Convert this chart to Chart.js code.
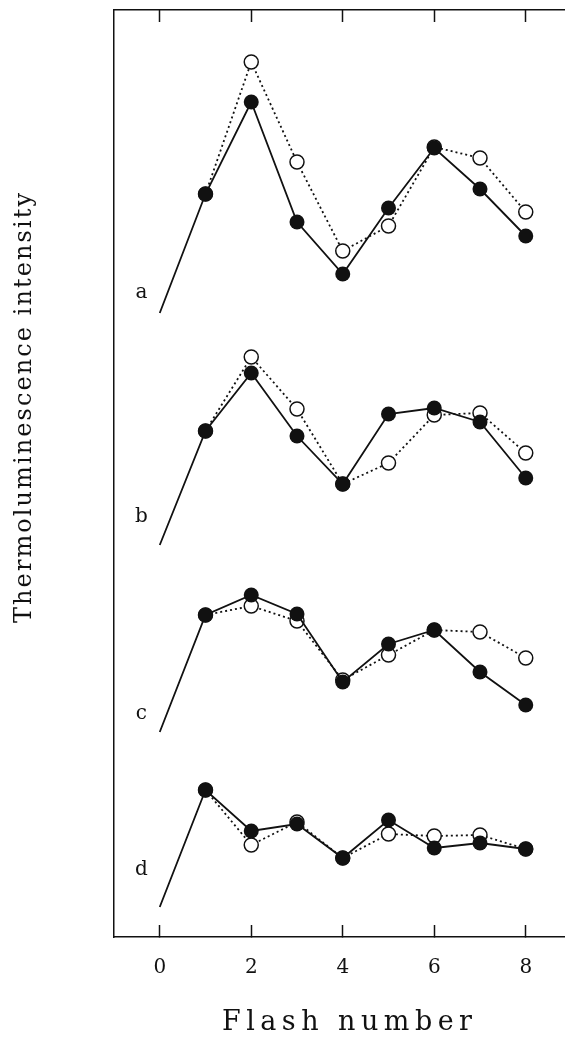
<!DOCTYPE html>
<html>
<head>
<meta charset="utf-8">
<script src="https://cdn.jsdelivr.net/npm/chart.js@4.4.1/dist/chart.umd.min.js"></script>
<style>
  html, body { margin: 0; padding: 0; background: #fff; overflow: hidden; }
  #wrap { width: 580px; height: 1040px; }
</style>
</head>
<body>
<div id="wrap"><canvas id="g1" width="580" height="1040"></canvas></div>
<script>
// flash number 1..8 (the traces start from flash 0 at the panel baseline)
const flashes = [1, 2, 3, 4, 5, 6, 7, 8];
const xTicks = [0, 2, 4, 6, 8];
const panels = ["a", "b", "c", "d"];
// vertical offset of each panel (arbitrary units) and where its letter sits
const baselines = [62.4, 39.2, 20.5, 3.0];
const labelHeights = [64.4, 42.0, 22.3, 6.7];

// intensities above the panel baseline
const filledA = [11.9, 21.1, 9.1, 3.9, 10.5, 16.5, 12.4, 7.7];
const openA = [11.9, 25.1, 15.1, 6.2, 8.7, 16.6, 15.5, 10.1];
const filledB = [11.4, 17.2, 10.9, 6.1, 13.1, 13.7, 12.3, 6.7];
const openB = [11.4, 18.8, 13.6, 6.1, 8.2, 13.0, 13.2, 9.2];
const filledC = [11.7, 13.7, 11.8, 5.0, 8.8, 10.2, 6.0, 2.7];
const openC = [11.7, 12.6, 11.1, 5.2, 7.7, 10.2, 10.0, 7.4];
const filledD = [11.7, 7.6, 8.3, 4.9, 8.7, 5.9, 6.4, 5.8];
const openD = [11.7, 6.2, 8.5, 4.9, 7.3, 7.1, 7.2, 5.8];

const filledSeries = [filledA, filledB, filledC, filledD];
const openSeries = [openA, openB, openC, openD];

const ink = "#111";
const datasets = [];

filledSeries.forEach((vals, i) => {
  const pts = [{ x: 0, y: baselines[i] }].concat(
    vals.map((v, j) => ({ x: flashes[j], y: baselines[i] + v }))
  );
  datasets.push({
    label: panels[i] + " filled",
    data: pts,
    order: 0,
    borderColor: ink,
    borderWidth: 1.8,
    pointRadius: pts.map((p) => (p.x === 0 ? 0 : 7.5)),
    pointBackgroundColor: ink,
    pointBorderWidth: 0,
  });
});

openSeries.forEach((vals, i) => {
  datasets.push({
    label: panels[i] + " open",
    data: vals.map((v, j) => ({ x: flashes[j], y: baselines[i] + v })),
    order: 1,
    borderColor: ink,
    borderWidth: 1.8,
    borderDash: [2, 3],
    pointRadius: 7,
    pointBackgroundColor: "#fff",
    pointBorderColor: ink,
    pointBorderWidth: 1.5,
  });
});

function spacedText(ctx, text, cx, cy, width) {
  ctx.letterSpacing = "0px";
  const w0 = ctx.measureText(text).width;
  const gap = Math.max(0, (width - w0) / (text.length - 1));
  ctx.letterSpacing = gap + "px";
  ctx.textAlign = "left";
  ctx.fillText(text, cx - width / 2, cy);
  ctx.letterSpacing = "0px";
}

const paperText = {
  id: "paperText",
  afterDraw(chart) {
    const { ctx } = chart;
    const x = chart.scales.x;
    const y = chart.scales.y;
    ctx.save();
    ctx.fillStyle = ink;
    ctx.textBaseline = "middle";
    ctx.textAlign = "center";
    ctx.font = "20px 'DejaVu Serif'";
    panels.forEach((p, i) => {
      ctx.fillText(p, x.getPixelForValue(-0.4), y.getPixelForValue(labelHeights[i]));
    });

    ctx.font = "27px 'DejaVu Serif'";
    spacedText(ctx, "Flash number", 347, 1023, 250);

    ctx.translate(25, 408);
    ctx.rotate(-Math.PI / 2);
    ctx.font = "24px 'DejaVu Serif'";
    spacedText(ctx, "Thermoluminescence intensity", 0, 0, 430);
    ctx.restore();
  },
};

const setTicks = (scale) => {
  scale.ticks = xTicks.map((v) => ({ value: v }));
};

const config = {
  type: "line",
  data: { datasets: datasets },
  options: {
    responsive: false,
    animation: false,
    layout: { padding: { right: 7 } },
    plugins: { legend: { display: false }, tooltip: { enabled: false } },
    scales: {
      x: {
        type: "linear",
        position: "bottom",
        min: -1,
        max: 9,
        afterBuildTicks: setTicks,
        afterFit: (s) => { s.height = 103; },
        grid: { drawOnChartArea: false, tickLength: -12, tickColor: ink, tickWidth: 1.5 },
        border: { color: ink, width: 1.5 },
        ticks: { color: ink, padding: 31, font: { family: "'DejaVu Serif'", size: 20 } },
      },
      x2: {
        type: "linear",
        position: "top",
        min: -1,
        max: 9,
        afterBuildTicks: setTicks,
        afterFit: (s) => { s.height = 10; },
        grid: { drawOnChartArea: false, tickLength: -12, tickColor: ink, tickWidth: 1.5 },
        border: { color: ink, width: 1.5 },
        ticks: { display: false },
      },
      y: {
        type: "linear",
        min: 0,
        max: 92.7,
        afterFit: (s) => { s.width = 114; },
        grid: { display: false },
        border: { color: ink, width: 1.5 },
        ticks: { display: false },
      },
    },
  },
  plugins: [paperText],
};

const chart1 = new Chart(document.getElementById("g1"), config);
</script>
</body>
</html>
